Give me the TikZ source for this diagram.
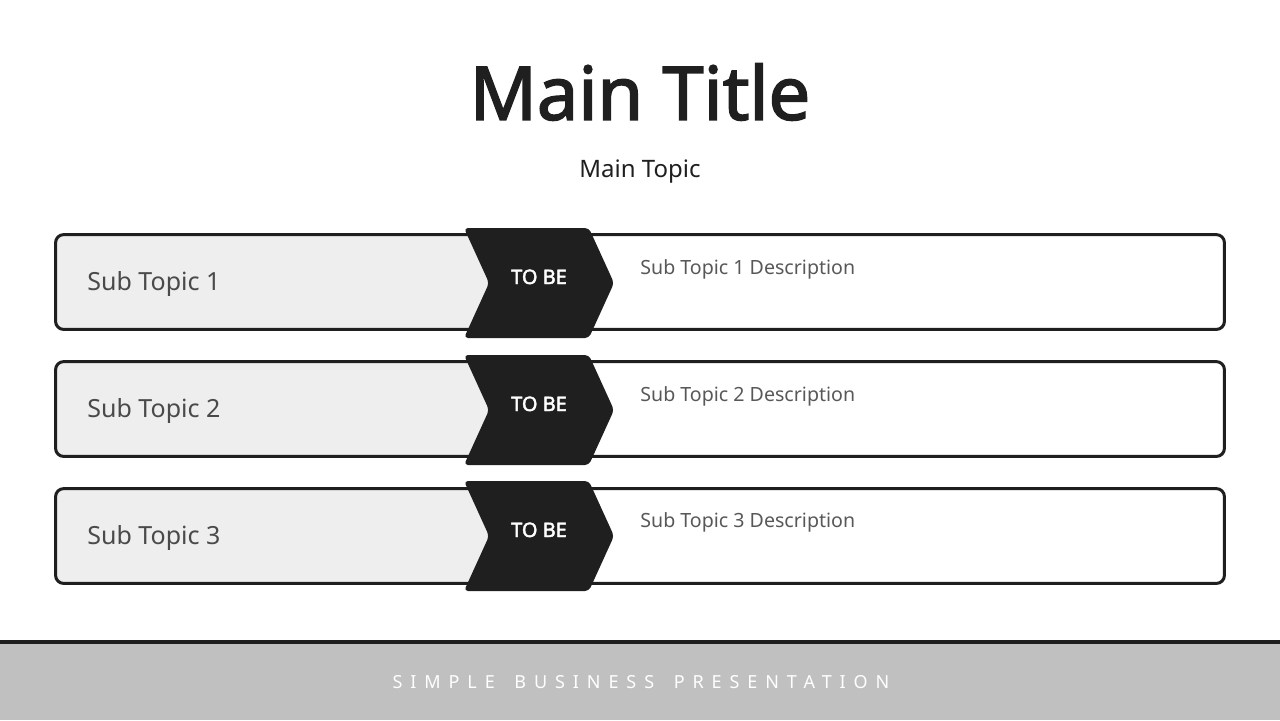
\documentclass[tikz,border=0pt]{standalone}
\usepackage{fontspec}
\setmainfont{Noto Sans}
\newfontfamily\titlefont[FakeBold=2.2]{Noto Sans}
\newfontfamily\footfont[LetterSpace=44]{Noto Sans}
\usetikzlibrary{shapes.symbols}

\definecolor{inkdark}{HTML}{1F1F1F}
\definecolor{leftgray}{HTML}{EEEEEE}
\definecolor{bandgray}{HTML}{C0C0C0}
\definecolor{subgray}{HTML}{4A4A4A}
\definecolor{descgray}{HTML}{585858}

\begin{document}
\begin{tikzpicture}[x=0.5pt,y=-0.5pt,
  row box/.style={minimum width=584pt,minimum height=47pt,inner sep=0pt},
  row line/.style={draw=inkdark,line width=1.5pt,rounded corners=4pt},
  left part/.style={fill=leftgray,rounded corners=4pt},
  chevron/.style={signal,signal from=west,signal to=east,signal pointer angle=131,
    fill=inkdark,rounded corners=2pt,minimum width=75pt,minimum height=55pt,inner sep=0pt,
    text height=7pt,text depth=6pt,
    text=white,font=\fontsize{10}{12}\selectfont},
  sub label/.style={anchor=west,inner sep=0pt,text=subgray,font=\fontsize{12.5}{15}\selectfont},
  desc label/.style={anchor=west,inner sep=0pt,text=descgray,font=\fontsize{9.8}{12}\selectfont}]

  \useasboundingbox (0,0) rectangle (1280,720);

  % title block
  \node[text=inkdark,font=\titlefont\fontsize{37}{44}\selectfont] (title) at (640,92) {Main Title};
  \node[text=inkdark,font=\fontsize{12}{14}\selectfont] (topic) at (640,172) {Main Topic};

  % row 1
  \node[row box] (row1) at (640,282) {};
  \fill[left part] (row1.north west) rectangle (490,329);
  \draw[row line] (row1.north west) rectangle (row1.south east);
  \node[chevron] (tobe1) at (539,283) {\titlefont TO BE};
  \node[sub label] (sub1) at (87,284) {Sub Topic 1};
  \node[desc label] (desc1) at (640,269) {Sub Topic 1 Description};

  % row 2
  \node[row box] (row2) at (640,409) {};
  \fill[left part] (row2.north west) rectangle (490,456);
  \draw[row line] (row2.north west) rectangle (row2.south east);
  \node[chevron] (tobe2) at (539,410) {\titlefont TO BE};
  \node[sub label] (sub2) at (87,411) {Sub Topic 2};
  \node[desc label] (desc2) at (640,396) {Sub Topic 2 Description};

  % row 3
  \node[row box] (row3) at (640,536) {};
  \fill[left part] (row3.north west) rectangle (490,583);
  \draw[row line] (row3.north west) rectangle (row3.south east);
  \node[chevron] (tobe3) at (539,536) {\titlefont TO BE};
  \node[sub label] (sub3) at (87,538) {Sub Topic 3};
  \node[desc label] (desc3) at (640,522) {Sub Topic 3 Description};

  % footer band
  \fill[inkdark] (0,640) rectangle (1280,644);
  \fill[bandgray] (0,644) rectangle (1280,720);
  \node[text=white,font=\footfont\fontsize{9}{11}\selectfont] (footer) at (641,682)
    {SIMPLE\hspace{3.5pt} BUSINESS\hspace{3.5pt} PRESENTATION};
\end{tikzpicture}
\end{document}
